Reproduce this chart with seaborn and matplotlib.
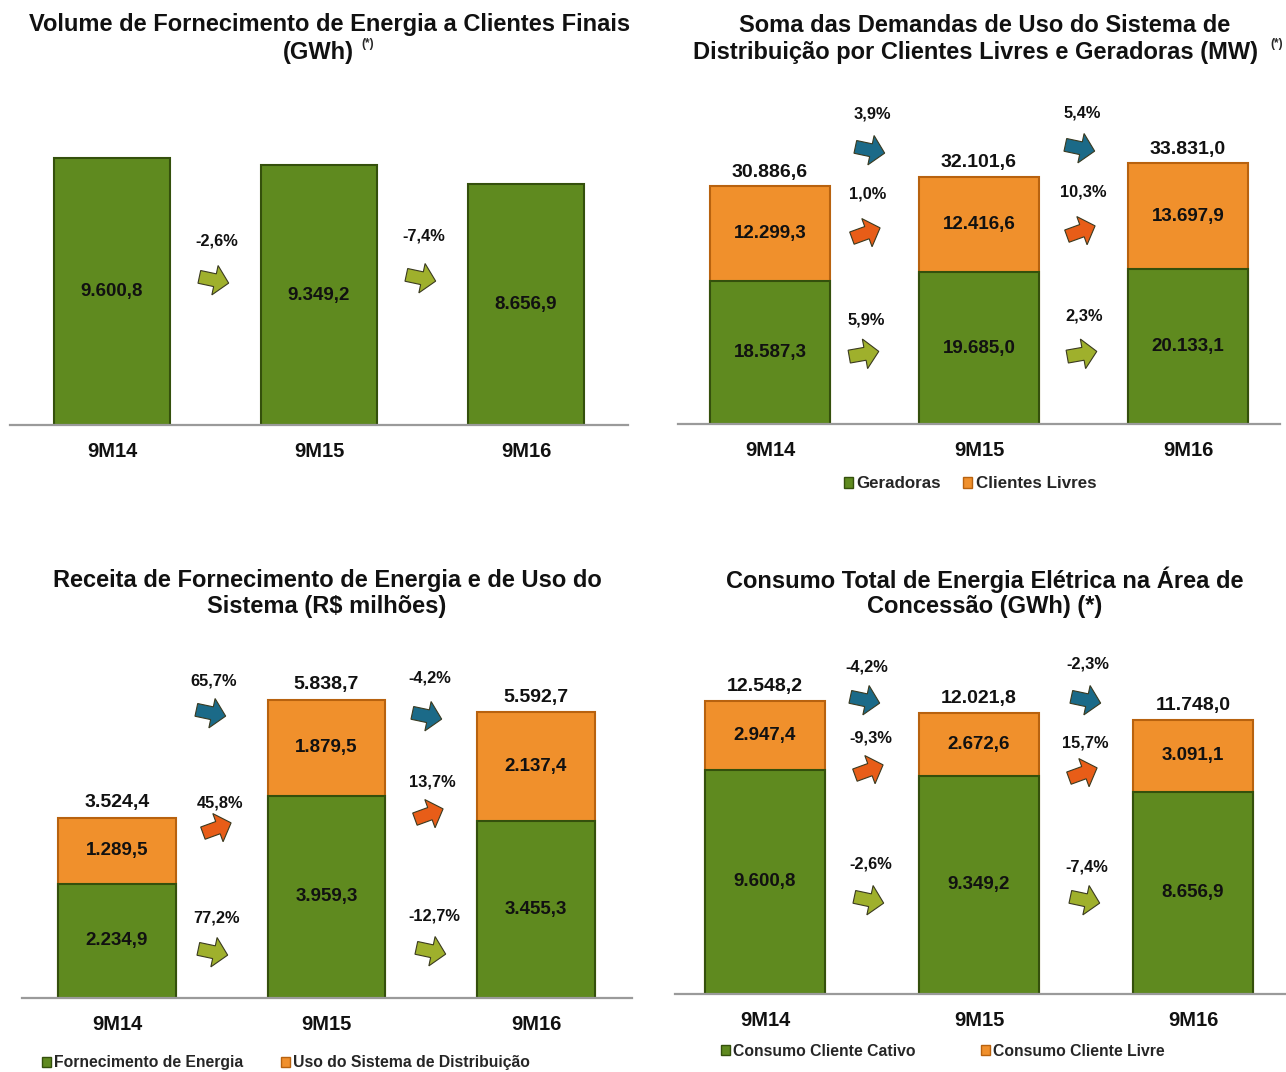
import matplotlib
matplotlib.use("Agg")
import numpy as np
import matplotlib.pyplot as plt
from matplotlib.patches import Patch, FancyArrow
import seaborn as sns

W, H = 1286, 1072

periods = ["9M14", "9M15", "9M16"]

# painel 1 - volume de fornecimento (GWh)
vol_fornecimento = [9600.8, 9349.2, 8656.9]
vol_var = ["-2,6%", "-7,4%"]

# painel 2 - demandas de uso do sistema (MW)
dem_geradoras = [18587.3, 19685.0, 20133.1]
dem_livres = [12299.3, 12416.6, 13697.9]
dem_total = [30886.6, 32101.6, 33831.0]
dem_var_total = ["3,9%", "5,4%"]
dem_var_livres = ["1,0%", "10,3%"]
dem_var_geradoras = ["5,9%", "2,3%"]

# painel 3 - receita (R$ milhoes)
rec_fornecimento = [2234.9, 3959.3, 3455.3]
rec_uso = [1289.5, 1879.5, 2137.4]
rec_total = [3524.4, 5838.7, 5592.7]
rec_var_total = ["65,7%", "-4,2%"]
rec_var_uso = ["45,8%", "13,7%"]
rec_var_forn = ["77,2%", "-12,7%"]

# painel 4 - consumo total (GWh)
cons_cativo = [9600.8, 9349.2, 8656.9]
cons_livre = [2947.4, 2672.6, 3091.1]
cons_total = [12548.2, 12021.8, 11748.0]
cons_var_total = ["-4,2%", "-2,3%"]
cons_var_livre = ["-9,3%", "15,7%"]
cons_var_cativo = ["-2,6%", "-7,4%"]

GREEN = "#5f8a1f"
GREEN_EDGE = "#34500c"
ORANGE = "#f0902c"
ORANGE_EDGE = "#b8620f"
ARROW_BLUE = "#1b6a88"
ARROW_ORANGE = "#e85d18"
ARROW_GREEN = "#9fb02c"

sns.set_theme(style="white")
plt.rcParams["font.family"] = ["Liberation Sans", "DejaVu Sans"]


def fmt(v):
    s = f"{v:,.1f}"
    return s.replace(",", "X").replace(".", ",").replace("X", ".")


def px(x, y):
    return x / W, 1 - y / H


def make_axes(fig, left, right, top, base, centers, ymax):
    ax = fig.add_axes([left / W, 1 - base / H, (right - left) / W, (base - top) / H])
    s = (centers[2] - centers[0]) / 2
    xlim = ((left - centers[0]) / s, (right - centers[0]) / s)
    return ax, xlim, (0, ymax)


def style_axes(ax, xlim, ylim):
    ax.set_xlim(*xlim)
    ax.set_ylim(*ylim)
    for side in ["top", "right", "left"]:
        ax.spines[side].set_visible(False)
    ax.spines["bottom"].set_color("#9a9a9a")
    ax.spines["bottom"].set_linewidth(1.6)
    ax.set_yticks([])
    ax.set_xlabel("")
    ax.set_ylabel("")
    ax.tick_params(axis="x", length=0, pad=12)
    for t in ax.get_xticklabels():
        t.set_fontweight("bold")
        t.set_fontsize(14.5)
        t.set_color("#111111")


def stacked(ax, base, totals, width):
    sns.barplot(x=periods, y=totals, color=ORANGE, width=width, ax=ax,
                edgecolor=ORANGE_EDGE, linewidth=1.5, saturation=1)
    sns.barplot(x=periods, y=base, color=GREEN, width=width, ax=ax,
                edgecolor=GREEN_EDGE, linewidth=1.5, saturation=1)


def arrow(fig, x, y, color, rot):
    # chunky block arrow, drawn in figure inches
    L = 30
    a = np.deg2rad(rot)
    dx, dy = np.cos(a), np.sin(a)
    x0 = (x - dx * L / 2) / 100
    y0 = (H - y - dy * L / 2) / 100
    fig.patches.append(FancyArrow(x0, y0, dx * L / 100, dy * L / 100, width=0.13,
                                  head_width=0.30, head_length=0.14,
                                  length_includes_head=True, facecolor=color,
                                  edgecolor="#3a3a20", linewidth=0.8,
                                  transform=fig.dpi_scale_trans, figure=fig))


def pct(fig, x, y, s):
    fig.text(*px(x, y), s, fontsize=11.8, fontweight="bold", color="#111111",
             ha="center", va="center")


def title(fig, x, y, s, size=17):
    fig.text(*px(x, y), s, fontsize=size, fontweight="bold", color="#111111",
             ha="center", va="center")


def seg_labels(ax, base, upper, totals, gap):
    for i in range(3):
        ax.text(i, base[i] / 2, fmt(base[i]), ha="center", va="center",
                fontsize=13.5, fontweight="bold", color="#111111")
        ax.text(i, base[i] + upper[i] / 2, fmt(upper[i]), ha="center",
                va="center", fontsize=13.5, fontweight="bold", color="#111111")
        ax.text(i, totals[i] + gap, fmt(totals[i]), ha="center", va="bottom",
                fontsize=14, fontweight="bold", color="#111111")


def legend(fig, labels, x, y, spacing, size):
    fig.legend(handles=[Patch(facecolor=GREEN, edgecolor=GREEN_EDGE, label=labels[0]),
                        Patch(facecolor=ORANGE, edgecolor=ORANGE_EDGE, label=labels[1])],
               loc="center", bbox_to_anchor=px(x, y), ncol=2, frameon=False,
               handlelength=0.55, handleheight=0.55, handletextpad=0.2,
               columnspacing=spacing, prop={"weight": "bold", "size": size})


fig = plt.figure(figsize=(W / 100, H / 100), dpi=100)

# ---------- painel 1 ----------
ax1, xl, yl = make_axes(fig, 10, 628, 100, 425, [112, 319, 526], 11690)
sns.barplot(x=periods, y=vol_fornecimento, color=GREEN, width=0.56, ax=ax1,
            edgecolor=GREEN_EDGE, linewidth=1.5, saturation=1)
for i, v in enumerate(vol_fornecimento):
    ax1.text(i, v / 2, fmt(v), ha="center", va="center", fontsize=13.5,
             fontweight="bold", color="#111111")
style_axes(ax1, xl, yl)
title(fig, 330, 25, "Volume de Fornecimento de Energia a Clientes Finais")
title(fig, 318, 53, "(GWh)")
fig.text(*px(368, 44), "(*)", fontsize=8.5, fontweight="bold", ha="center", va="center")
for (xp, yp, ya), s in zip([(217, 241, 280), (424, 236, 278)], vol_var):
    pct(fig, xp, yp, s)
    arrow(fig, xp - 3, ya, ARROW_GREEN, -12)

# ---------- painel 2 ----------
ax2, xl, yl = make_axes(fig, 678, 1280, 100, 424, [770, 980, 1188], 42050)
stacked(ax2, dem_geradoras, dem_total, 0.57)
seg_labels(ax2, dem_geradoras, dem_livres, dem_total, 700)
style_axes(ax2, xl, yl)
title(fig, 985, 25, "Soma das Demandas de Uso do Sistema de")
title(fig, 975, 53, "Distribuição por Clientes Livres e Geradoras (MW)")
fig.text(*px(1277, 44), "(*)", fontsize=8.5, fontweight="bold", ha="center", va="center")
pos2 = [
    [(872, 114, 150), (868, 194, 233), (866, 320, 354)],
    [(1082, 113, 148), (1083, 192, 231), (1084, 316, 354)],
]
for k in range(2):
    labels = [dem_var_total[k], dem_var_livres[k], dem_var_geradoras[k]]
    for (xp, yp, ya), s, c, r in zip(pos2[k], labels,
                                     [ARROW_BLUE, ARROW_ORANGE, ARROW_GREEN],
                                     [-12, 20, 10]):
        pct(fig, xp, yp, s)
        arrow(fig, xp - 2, ya, c, r)
legend(fig, ["Geradoras", "Clientes Livres"], 970, 484, 1.3, 12.2)

# ---------- painel 3 ----------
ax3, xl, yl = make_axes(fig, 22, 632, 650, 998, [117, 326, 536], 6810)
stacked(ax3, rec_fornecimento, rec_total, 0.56)
seg_labels(ax3, rec_fornecimento, rec_uso, rec_total, 130)
style_axes(ax3, xl, yl)
title(fig, 327, 580, "Receita de Fornecimento de Energia e de Uso do")
title(fig, 327, 607, "Sistema (R$ milhões)")
pos3 = [
    [(214, 681, 713), (220, 803, 828), (216, 918, 952)],
    [(430, 678, 716), (432, 782, 814), (434, 916, 951)],
]
for k in range(2):
    labels = [rec_var_total[k], rec_var_uso[k], rec_var_forn[k]]
    for (xp, yp, ya), s, c, r in zip(pos3[k], labels,
                                     [ARROW_BLUE, ARROW_ORANGE, ARROW_GREEN],
                                     [-12, 20, -12]):
        pct(fig, xp, yp, s)
        arrow(fig, xp - 3, ya, c, r)
legend(fig, ["Fornecimento de Energia", "Uso do Sistema de Distribuição"],
       286, 1063, 2.4, 11.3)

# ---------- painel 4 ----------
ax4, xl, yl = make_axes(fig, 675, 1285, 650, 994, [765, 980, 1193], 14730)
stacked(ax4, cons_cativo, cons_total, 0.565)
seg_labels(ax4, cons_cativo, cons_livre, cons_total, 250)
style_axes(ax4, xl, yl)
title(fig, 985, 580, "Consumo Total de Energia Elétrica na Área de")
title(fig, 985, 607, "Concessão (GWh) (*)")
pos4 = [
    [(867, 667, 700), (871, 738, 770), (871, 864, 900)],
    [(1088, 664, 700), (1085, 743, 773), (1087, 867, 900)],
]
for k in range(2):
    labels = [cons_var_total[k], cons_var_livre[k], cons_var_cativo[k]]
    for (xp, yp, ya), s, c, r in zip(pos4[k], labels,
                                     [ARROW_BLUE, ARROW_ORANGE, ARROW_GREEN],
                                     [-12, 20, -12]):
        pct(fig, xp, yp, s)
        arrow(fig, xp - 2, ya, c, r)
legend(fig, ["Consumo Cliente Cativo", "Consumo Cliente Livre"], 943, 1051, 4.2, 11.3)

fig.savefig("out.png", dpi=100)
